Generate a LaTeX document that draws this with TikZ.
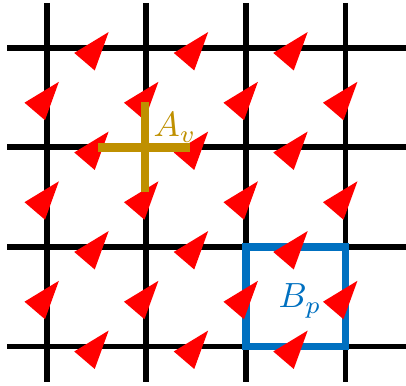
\documentclass[tikz,border=0pt]{standalone}
\usepackage{xcolor}
\definecolor{spinRed}{RGB}{255,0,0}
\definecolor{vertexGold}{RGB}{191,144,0}
\definecolor{plaqBlue}{RGB}{0,112,192}
\usepackage{tikz}
\usetikzlibrary{positioning}
\tikzstyle{gridline}=[line width=0.12cm, color=black]
\tikzstyle{spin}=[fill=spinRed]
\tikzstyle{starline}=[line width=0.17cm, color=vertexGold]
\tikzstyle{plaqline}=[line width=0.155cm, color=plaqBlue]
\tikzstyle{oplabel}=[inner sep=0pt, anchor=base west, scale=2]

\begin{document}
\begin{tikzpicture}[x=2cm, y=2cm]
    \useasboundingbox (-0.472,-3.397) rectangle (3.608,0.482);

    % --- rede ---
    \foreach \k in {0,...,3} {
      \draw[gridline] (-0.40,-\k) -- (3.61,-\k);
      \draw[gridline] (\k,0.452) -- (\k,-3.36);
    }

    % --- plaqueta ---
    \draw[plaqline] (2,-2) rectangle (3,-3);

    % spins nas arestas horizontais
    \foreach \i in {0,1,2} {
      \foreach \j in {0,...,3} {
        \fill[spin, shift={(\i+0.5,-\j)}]
             (0.12,0.16) -- (-0.226,-0.05) -- (-0.02,-0.226) -- cycle;
      }
    }
    % spins nas arestas verticais
    \foreach \i in {0,...,3} {
      \foreach \j in {0,1,2} {
        \fill[spin, shift={(\i,-\j-0.5)}]
             (0.12,0.16) -- (-0.226,-0.05) -- (-0.02,-0.226) -- cycle;
      }
    }

    % --- estrela ---
    \draw[starline] (0.513,-1) -- (1.437,-1);
    \draw[starline] (0.985,-0.543) -- (0.985,-1.447);

    % rótulos
    \node[oplabel, color=vertexGold] (Av) at (1.065,-0.894) {$A_v$};
    \node[oplabel, color=plaqBlue]   (Bp) at (2.322,-2.613) {$B_p$};
  \end{tikzpicture}
\end{document}
